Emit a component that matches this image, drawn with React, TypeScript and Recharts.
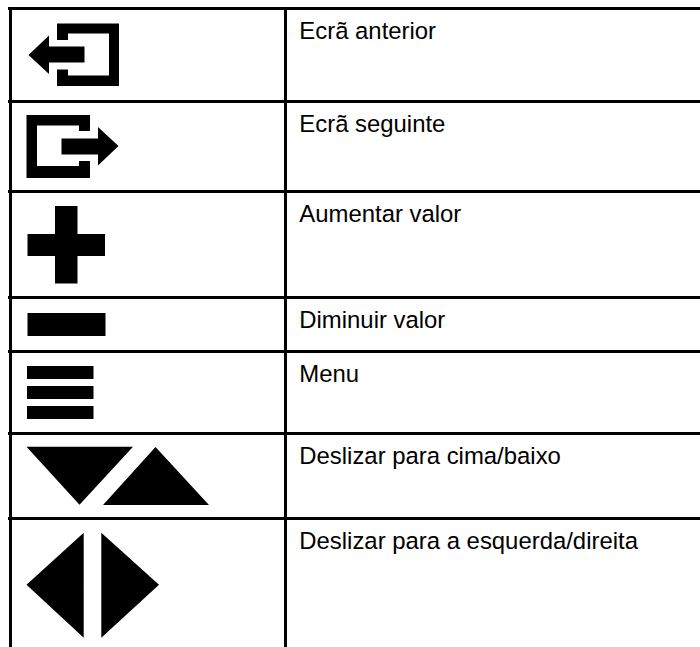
import React from "react";
import { ComposedChart, Scatter, XAxis, YAxis, ReferenceLine } from "recharts";

const labels = [
  "Ecrã anterior",
  "Ecrã seguinte",
  "Aumentar valor",
  "Diminuir valor",
  "Menu",
  "Deslizar para cima/baixo",
  "Deslizar para a esquerda/direita",
];
const iconNames = ["back", "next", "plus", "minus", "menu", "updown", "leftright"];
const rowHeights = [93, 90, 106, 54, 82, 85, 128];

const WIDTH = 700;
const HEIGHT = 647;
const TABLE_TOP = 8.5;
const TABLE_LEFT = 10.5;
const COLUMN_SPLIT = 285.5;
const RULE_START = 8;
const TEXT_X = 299.3;
const TEXT_BASELINE = 30.5;

// Icon glyph outlines, relative to the top of their row.
const ICONS: Record<string, string> = {
  back: "M57 15H119V77.5H57V61H68V67H109V25H68V31.5H57Z M28.5 46.5L49 27V38H84.5V54H49V65.5Z",
  next: "M26.5 13.5H90V29.5H79V24H37V64.5H79V59.5H90V76.5H26.5Z M61.5 37H98V25.5L118.5 44.5L98 64V53H61.5Z",
  plus: "M55 14.5H77.5V42.5H105V64.5H77.5V92H55V64.5H27.5V42.5H55Z",
  minus: "M27.5 15.5H105.5V38.5H27.5Z",
  menu: "M27 14.5H93.5V27.5H27Z M27 34.5H93.5V47.5H27Z M27 54.5H93.5V67.5H27Z",
  updown: "M26.5 13.2H133L79.5 71.2Z M155.5 13.5L209 71.5H103Z",
  leftright: "M26.5 66.2L83.7 14.2V119.2Z M101.3 14.2L159 66.2L101.3 119.2Z",
};

const rowTops = rowHeights.map((_, i) =>
  rowHeights.slice(0, i).reduce((sum, h) => sum + h, TABLE_TOP)
);
const iconRows = iconNames.map((icon, i) => ({ x: 0, y: rowTops[i], icon }));
const textRows = labels.map((label, i) => ({ x: TEXT_X, y: rowTops[i] + TEXT_BASELINE, label }));

const IconShape = (props: any) => (
  <path transform={`translate(${props.cx},${props.cy})`} d={ICONS[props.payload.icon]} fill="#000" />
);

const LabelShape = (props: any) => (
  <text
    x={props.cx}
    y={props.cy}
    fontFamily="'Liberation Sans', Arial, sans-serif"
    fontSize={23.9}
    fill="#000"
  >
    {props.payload.label}
  </text>
);

export default function App() {
  return (
    <div style={{ position: "absolute", left: 0, top: 0, width: WIDTH, height: HEIGHT, background: "#fff" }}>
      <ComposedChart width={WIDTH} height={HEIGHT} margin={{ top: 0, right: 0, bottom: 0, left: 0 }}>
        <XAxis type="number" dataKey="x" domain={[0, WIDTH]} hide />
        <YAxis type="number" dataKey="y" domain={[0, HEIGHT]} reversed hide />
        {rowTops.map((y) => (
          <ReferenceLine
            key={y}
            segment={[{ x: RULE_START, y }, { x: WIDTH, y }]}
            stroke="#000"
            strokeWidth={3}
          />
        ))}
        {[TABLE_LEFT, COLUMN_SPLIT].map((x) => (
          <ReferenceLine
            key={x}
            segment={[{ x, y: RULE_START }, { x, y: HEIGHT }]}
            stroke="#000"
            strokeWidth={3}
          />
        ))}
        <Scatter data={iconRows} dataKey="y" shape={IconShape} isAnimationActive={false} />
        <Scatter data={textRows} dataKey="y" shape={LabelShape} isAnimationActive={false} />
      </ComposedChart>
    </div>
  );
}
